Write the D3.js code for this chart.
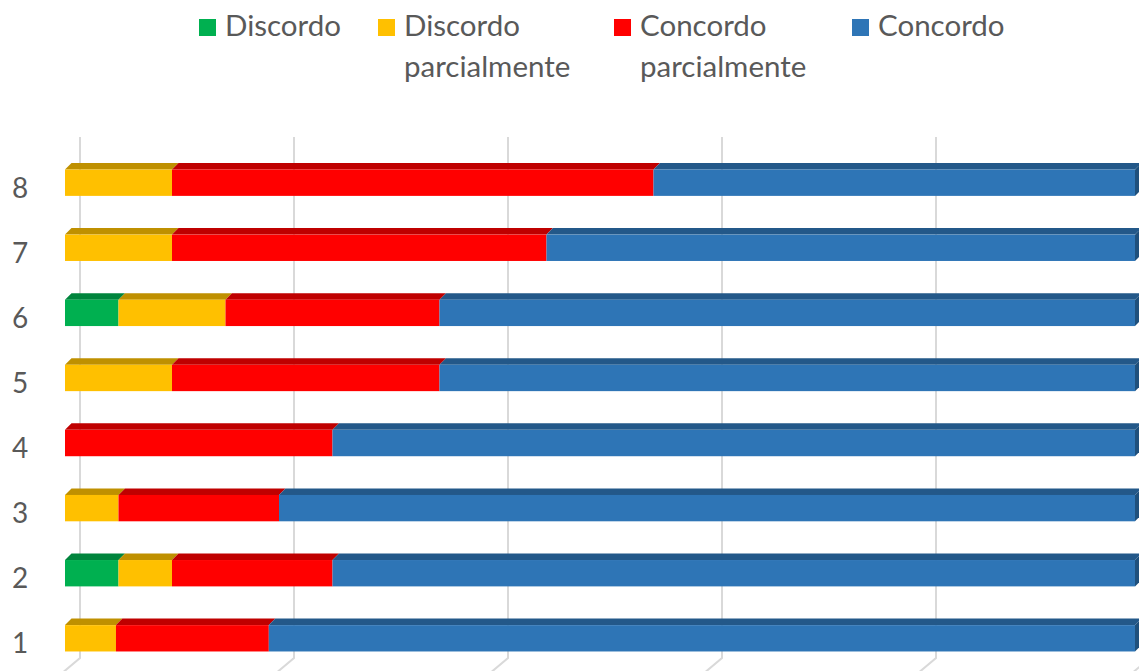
<!DOCTYPE html>
<html>
<head>
<meta charset="utf-8">
<script src="https://cdn.jsdelivr.net/npm/d3@7"></script>
<style>
  html, body { margin: 0; padding: 0; background: #fff; }
  svg { display: block; font-family: Lato, Carlito, Calibri, sans-serif; }
</style>
</head>
<body>
<svg></svg>
<script>
const SVG_MEASURES = {
  width: 1139,
  height: 671
}

// questions, bottom to top in the chart
const questions = ['1', '2', '3', '4', '5', '6', '7', '8']
const answers = ['Discordo', 'Discordo parcialmente', 'Concordo parcialmente', 'Concordo']
const answerColors = ['#00b050', '#ffc000', '#ff0000', '#2e75b6']

// number of answers per question, same order as answers
const discordo = [0, 1, 0, 0, 0, 1, 0, 0]
const discordoParcial = [1, 1, 1, 0, 2, 2, 2, 2]
const concordoParcial = [3, 3, 3, 5, 5, 4, 7, 9]
const concordo = [17, 15, 16, 15, 13, 13, 11, 9]

const gridTicks = [0, 0.2, 0.4, 0.6, 0.8, 1]

const depth = { dx: 15, dy: 13 }   // floor depth (back wall -> front plane)
const bar3d = { dx: 6.5, dy: 6.5 } // depth of each bar

let svg

window.addEventListener('load', () => {
  svg = d3.select('svg')
    .attr('width', SVG_MEASURES.width)
    .attr('height', SVG_MEASURES.height)

  const rows = questions.map((q, i) => ({
    q,
    'Discordo': discordo[i],
    'Discordo parcialmente': discordoParcial[i],
    'Concordo parcialmente': concordoParcial[i],
    'Concordo': concordo[i]
  }))

  const series = d3.stack()
    .keys(answers)
    .offset(d3.stackOffsetExpand)(rows)

  const color = d3.scaleOrdinal(answers, answerColors)

  const x = d3.scaleLinear([0, 1], [65, 65 + 1070])
  const y = d3.scaleBand(questions.slice().reverse(), [137 + depth.dy, 658 + depth.dy])
    .paddingInner(0.595)
    .paddingOuter(0.3)

  // back wall gridlines + floor
  const grid = svg.append('g')
    .attr('stroke', '#d9d9d9')
    .attr('stroke-width', 2)
    .attr('fill', 'none')

  grid.selectAll('path')
    .data(gridTicks)
    .join('path')
      .attr('d', t => {
        const bx = x(t) + depth.dx
        return `M${bx},137V658L${bx - depth.dx - 4},${658 + depth.dy + 3}`
      })

  // bars
  const layer = svg.append('g')
    .selectAll('g')
    .data(series)
    .join('g')
      .attr('fill', d => color(d.key))

  const seg = layer.selectAll('g')
    .data(d => d.map(v => ({ key: d.key, q: v.data.q, x0: v[0], x1: v[1] })))
    .join('g')
      .filter(d => d.x1 > d.x0)

  const h = y.bandwidth()

  seg.append('path')
    .attr('fill', d => shade(color(d.key), 0.75))
    .attr('d', d => {
      const x0 = x(d.x0), x1 = x(d.x1), yt = y(d.q)
      return `M${x0},${yt}L${x0 + bar3d.dx},${yt - bar3d.dy}L${x1 + bar3d.dx},${yt - bar3d.dy}L${x1},${yt}Z`
    })

  seg.append('rect')
    .attr('x', d => x(d.x0))
    .attr('y', d => y(d.q))
    .attr('width', d => x(d.x1) - x(d.x0))
    .attr('height', h)

  // right side face of the last segment
  seg.filter(d => d.x1 === 1)
    .append('path')
      .attr('fill', d => shade(color(d.key), 0.68))
      .attr('d', d => {
        const x1 = x(d.x1), yt = y(d.q)
        return `M${x1},${yt}L${x1 + bar3d.dx},${yt - bar3d.dy}V${yt + h - bar3d.dy}L${x1},${yt + h}Z`
      })

  // category labels
  svg.append('g')
    .attr('fill', '#595959')
    .attr('font-size', 28)
    .attr('text-anchor', 'middle')
    .selectAll('text')
    .data(questions)
    .join('text')
      .attr('x', 20)
      .attr('y', q => y(q) + h / 2 + 15)
      .text(q => q)

  displayLegend(color)
})

function shade(c, k) {
  const rgb = d3.rgb(c)
  return d3.rgb(rgb.r * k, rgb.g * k, rgb.b * k).formatHex()
}

function displayLegend(color) {
  const items = [
    { key: answers[0], lines: ['Discordo'], x: 199 },
    { key: answers[1], lines: ['Discordo', 'parcialmente'], x: 378 },
    { key: answers[2], lines: ['Concordo', 'parcialmente'], x: 614 },
    { key: answers[3], lines: ['Concordo'], x: 852 }
  ]

  const legend = svg.append('g')
    .attr('id', 'legend')

  const item = legend.selectAll('g')
    .data(items)
    .join('g')
      .attr('transform', d => `translate(${d.x}, 0)`)

  item.append('rect')
    .attr('y', 19)
    .attr('width', 17)
    .attr('height', 17)
    .attr('fill', d => color(d.key))

  item.append('text')
    .attr('fill', '#595959')
    .attr('font-size', 29.5)
    .selectAll('tspan')
    .data(d => d.lines)
    .join('tspan')
      .attr('x', 26)
      .attr('y', (d, i) => 36 + i * 41)
      .text(d => d)
}
</script>
</body>
</html>
